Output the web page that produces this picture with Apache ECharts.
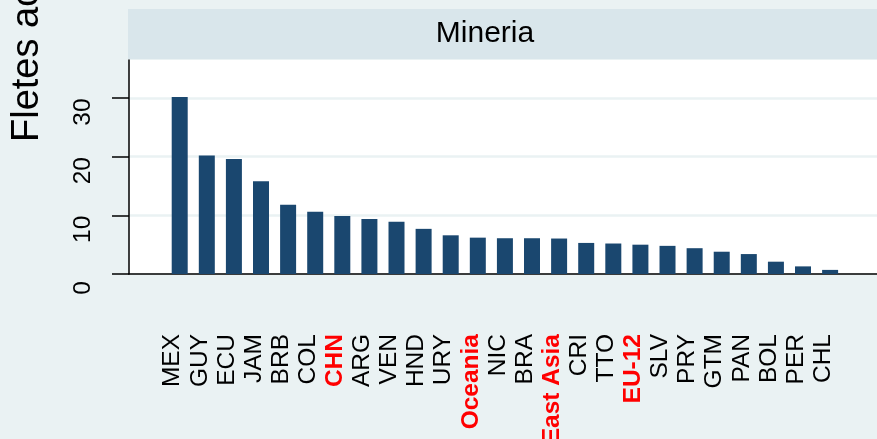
<!DOCTYPE html>
<html>
<head>
<meta charset="utf-8">
<script src="https://cdn.jsdelivr.net/npm/echarts@6/dist/echarts.min.js"></script>
<style>
  html, body { margin: 0; padding: 0; background: #eaf2f3; }
  #chart { width: 877px; height: 439px; }
</style>
</head>
<body>
<div id="chart"></div>
<script>
// countries sorted by value, regions highlighted in red
var countries = ["MEX", "GUY", "ECU", "JAM", "BRB", "COL", "CHN", "ARG", "VEN", "HND",
  "URY", "Oceania", "NIC", "BRA", "East Asia", "CRI", "TTO", "EU-12", "SLV", "PRY",
  "GTM", "PAN", "BOL", "PER", "CHL"];
var values = [30.2, 20.2, 19.6, 15.8, 11.8, 10.6, 9.9, 9.4, 8.9, 7.7,
  6.6, 6.2, 6.1, 6.1, 6.05, 5.3, 5.2, 5.0, 4.8, 4.4,
  3.8, 3.4, 2.1, 1.3, 0.7];
var highlighted = ["CHN", "Oceania", "East Asia", "EU-12"];
var yTicks = [0, 10, 20, 30];
var panelTitle = "Mineria";
var yTitle = "Fletes acumulados";

var font = "Liberation Sans, Arial, sans-serif";
var positions = countries.map(function(c, i) { return i + 1; });

var chart = echarts.init(document.getElementById("chart"));
var option = {
  backgroundColor: "#eaf2f3",
  animation: false,
  textStyle: { fontFamily: font },
  graphic: [
    {
      type: "rect",
      shape: { x: 128, y: 9, width: 760, height: 50 },
      style: { fill: "#d9e6eb" },
      silent: true
    },
    {
      type: "text",
      x: 485,
      y: 34,
      style: {
        text: panelTitle,
        font: "30px " + font,
        fill: "#000",
        textAlign: "center",
        textVerticalAlign: "middle"
      }
    },
    {
      type: "text",
      x: 28,
      y: 142,
      rotation: Math.PI / 2,
      style: {
        text: yTitle,
        font: "38px " + font,
        fill: "#000",
        textAlign: "left",
        textVerticalAlign: "middle"
      }
    }
  ],
  grid: {
    left: 129,
    right: 0,
    top: 60,
    bottom: 165,
    outerBoundsMode: "none",
    show: true,
    backgroundColor: "#ffffff",
    borderWidth: 0
  },
  xAxis: {
    type: "value",
    min: -0.871,
    max: 26.73,
    axisLine: { show: true, onZero: false, lineStyle: { color: "#000", width: 1.5 } },
    axisTick: { show: false },
    splitLine: { show: false },
    axisLabel: {
      customValues: positions,
      rotate: 90,
      margin: 60,
      fontSize: 24.5,
      color: "#000",
      padding: [0, 0, 14, 0],
      formatter: function(v) {
        var name = countries[Math.round(v) - 1];
        if (highlighted.indexOf(name) >= 0) return "{r|" + name + "}";
        return name;
      },
      rich: {
        r: { color: "#ff0000", fontWeight: "bold", fontSize: 24.5, fontFamily: font }
      }
    }
  },
  yAxis: {
    type: "value",
    min: 0,
    max: 36.5,
    interval: 10,
    axisLine: { show: true, onZero: false, lineStyle: { color: "#000", width: 1.5 } },
    axisTick: { show: true, customValues: yTicks, length: 17, lineStyle: { color: "#000", width: 1.5 } },
    splitLine: { show: true, lineStyle: { color: "#eaf2f3", width: 2.5 } },
    axisLabel: {
      customValues: yTicks,
      rotate: 90,
      margin: 33,
      fontSize: 24.5,
      color: "#000",
      padding: [0, 28, 0, 0]
    }
  },
  series: [
    {
      type: "bar",
      barWidth: 16,
      itemStyle: { color: "#1a476f" },
      data: values.map(function(v, i) { return [positions[i], v]; })
    }
  ]
};
chart.setOption(option);
</script>
</body>
</html>
